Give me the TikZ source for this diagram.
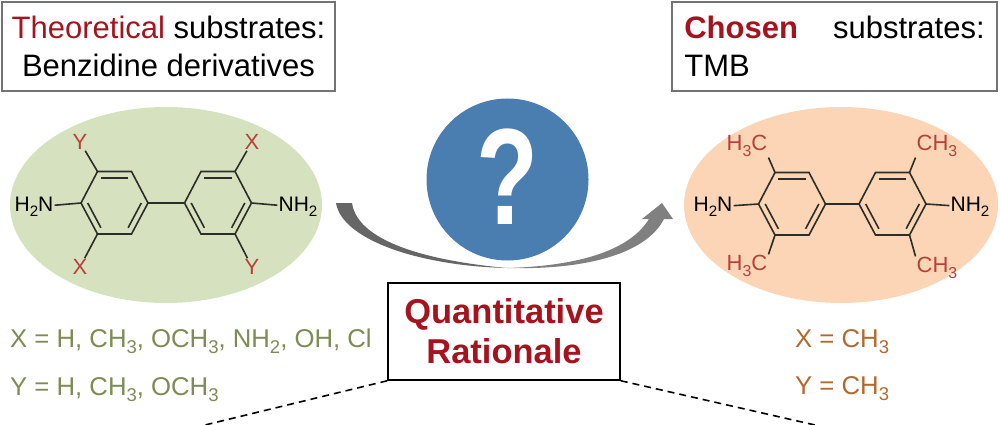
\documentclass[tikz,border=0pt]{standalone}
\usepackage{fontspec}
\setmainfont{Liberation Sans}
\usepackage{xcolor}
\usetikzlibrary{calc}
\definecolor{darkred}{HTML}{A5141E}
\definecolor{labelred}{HTML}{B8403A}
\definecolor{olive}{HTML}{7E8B55}
\definecolor{rust}{HTML}{B5682D}
\definecolor{leaf}{HTML}{D6E2BF}
\definecolor{peach}{HTML}{FBD5B5}
\definecolor{qblue}{HTML}{4A7EB0}
\newcommand{\lowd}[1]{\raisebox{-.24em}{\scalebox{.72}{#1}}}
\newcommand{\benzring}[2]{%
  \begin{scope}[shift={#2},name prefix=#1]
    \coordinate (v1) at (-33.5,0);
    \coordinate (v2) at (-17,-31.5);
    \coordinate (v3) at (17,-31.5);
    \coordinate (v4) at (33.5,0);
    \coordinate (v5) at (17,31);
    \coordinate (v6) at (-17,31);
    \draw[bond] (v1) -- (v2) -- (v3) -- (v4) -- (v5) -- (v6) -- cycle;
    \draw[bond] ($(0,0)!.8!(v2)$) -- ($(0,0)!.8!(v3)$);
    \draw[bond] ($(0,0)!.8!(v1)$) -- ($(0,0)!.8!(v6)$);
    \draw[bond] ($(0,0)!.8!(v4)$) -- ($(0,0)!.8!(v5)$);
  \end{scope}}
\tikzset{
  bond/.style={line width=1.6pt,color=black!80!leaf},
  headbox/.style={draw=black!55,line width=1.5pt,inner sep=0pt,font=\fontsize{31}{38}\selectfont},
  atom/.style={inner sep=1pt,font=\fontsize{21}{21}\selectfont},
  subst/.style={atom,color=labelred,font=\fontsize{22}{22}\selectfont},
  values/.style={anchor=base west,inner sep=0pt,font=\fontsize{25.7}{26}\selectfont},
  link/.style={line width=1.6pt,dash pattern=on 7pt off 5pt}
}
\begin{document}
\begin{tikzpicture}[x=1pt,y=-1pt]
  \useasboundingbox (0,0) rectangle (1000,425);
  % backgrounds
  \fill[leaf] (166,205) ellipse (156pt and 98pt);
  \fill[peach] (841,205) ellipse (157pt and 98pt);
  % heading boxes
  \node[headbox,minimum width=333pt,minimum height=89pt,align=center] (theory) at (168.5,46.5)
    {\textcolor{darkred}{Theoretical} substrates:\\Benzidine derivatives};
  \node[headbox,minimum width=325pt,minimum height=89pt,align=left] (chosen) at (834.5,46.5)
    {\textcolor{darkred}{\bfseries Chosen}\hspace{35pt}substrates:\\TMB};
  % left molecule
  \benzring{la}{(114.5,203)}
  \benzring{lb}{(218,203)}
  \draw[bond] (lav4) -- (lbv1);
  \node[atom] (lnl) at (34,207) {H\lowd{2}N};
  \node[atom] (lnr) at (298,207) {NH\lowd{2}};
  \node[subst] (ly1) at (80,142) {Y};
  \node[subst] (lx1) at (80,267) {X};
  \node[subst] (lx2) at (252,142) {X};
  \node[subst] (ly2) at (252,267) {Y};
  \draw[bond] (lnl) -- (lav1);
  \draw[bond] (lnr) -- (lbv4);
  \draw[bond] (ly1) -- (lav2);
  \draw[bond] (lx1) -- (lav6);
  \draw[bond] (lx2) -- (lbv3);
  \draw[bond] (ly2) -- (lbv5);
  % right molecule
  \benzring{ra}{(792,204)}
  \benzring{rb}{(892.5,204)}
  \draw[bond] (rav4) -- (rbv1);
  \node[atom] (rnl) at (713,207) {H\lowd{2}N};
  \node[atom] (rnr) at (970,207) {NH\lowd{2}};
  \node[subst] (rc1) at (747,146) {H\lowd{3}C};
  \node[subst] (rc2) at (747,266) {H\lowd{3}C};
  \node[subst] (rc3) at (937,146) {CH\lowd{3}};
  \node[subst] (rc4) at (937,268) {CH\lowd{3}};
  \draw[bond] (rnl) -- (rav1);
  \draw[bond] (rnr) -- (rbv4);
  \draw[bond] (rc1.south east) -- (rav2);
  \draw[bond] (rc2.north east) -- (rav6);
  \draw[bond] (rc3.south west) -- (rbv3);
  \draw[bond] (rc4.north west) -- (rbv5);
  % substituent lists
  \node[values,color=olive] (lxval) at (10,347) {X = H, CH\lowd{3}, OCH\lowd{3}, NH\lowd{2}, OH, Cl};
  \node[values,color=olive] (lyval) at (10,395) {Y = H, CH\lowd{3}, OCH\lowd{3}};
  \node[values,color=rust] (rxval) at (795,347) {X = CH\lowd{3}};
  \node[values,color=rust] (ryval) at (795,394) {Y = CH\lowd{3}};
  % sweep and question mark
  \fill[black!60] (336,203) .. controls (342,240) and (420,266) .. (507,268)
    .. controls (440,262) and (358,245) .. (352,203) -- cycle;
  \fill[black!50] (507,268) .. controls (580,266) and (630,250) .. (649,219) -- (642,219) -- (662,203)
    -- (673,219) -- (664,219) .. controls (645,256) and (580,270) .. (507,268) -- cycle;
  \node[circle,fill=qblue,minimum size=162pt,inner sep=0pt,text=white,font=\fontsize{137}{137}\selectfont\bfseries] (ask) at (507.5,179.5)
    {\raisebox{5pt}{\scalebox{.74}[1]{?}}};
  % rationale box
  \node[draw=black,line width=1.5pt,minimum width=232pt,minimum height=97pt,inner sep=0pt,align=center,
    text=darkred,font=\fontsize{34.5}{40}\selectfont\bfseries] (rationale) at (504,331.5) {Quantitative\\Rationale};
  \coordinate (linkl) at (205,425);
  \coordinate (linkr) at (815,425);
  \draw[link] (rationale.south west) -- (linkl);
  \draw[link] (rationale.south east) -- (linkr);
\end{tikzpicture}
\end{document}
